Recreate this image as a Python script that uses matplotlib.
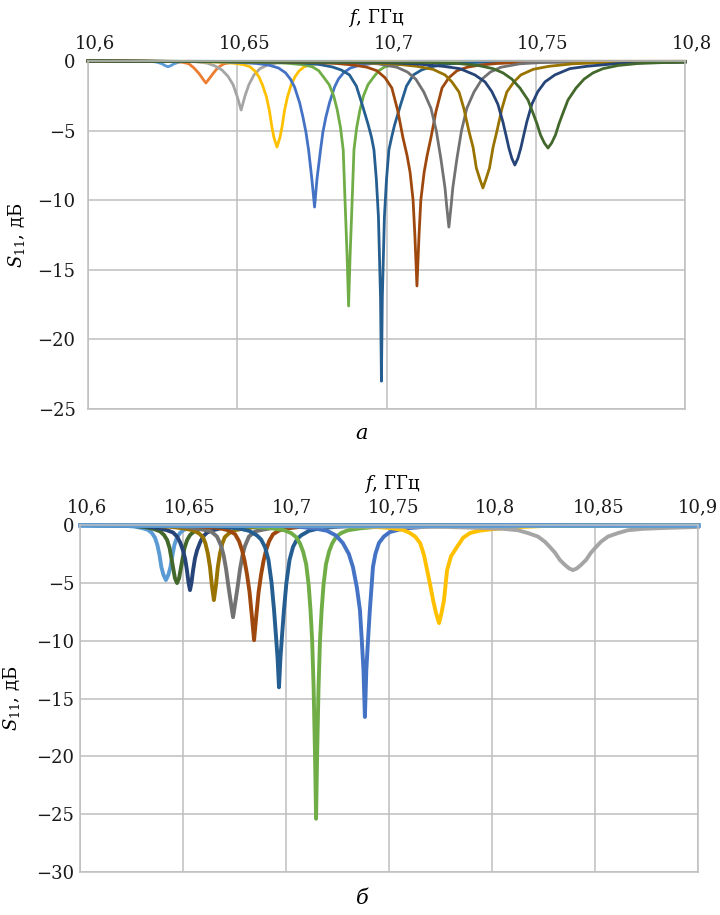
import matplotlib
matplotlib.use('Agg')
import matplotlib.pyplot as plt
import matplotlib.transforms as mtransforms

plt.rcParams['font.family'] = ['DejaVu Serif']
plt.rcParams['mathtext.fontset'] = 'dejavuserif'

# panel a: S11 (dB) vs f (GHz)
a_freq = [
    [10.6, 10.6208, 10.6231, 10.6248, 10.6258, 10.6268, 10.6278, 10.6288, 10.6305, 10.6328, 10.8],
    [10.6, 10.6275, 10.6315, 10.6338, 10.6355, 10.6372, 10.6385, 10.6395, 10.6405, 10.6419, 10.6436,
     10.6456, 10.6482, 10.6526, 10.8],
    [10.6, 10.6358, 10.6399, 10.6425, 10.6449, 10.6469, 10.6486, 10.6499, 10.6513, 10.6526, 10.6539,
     10.6556, 10.6576, 10.6600, 10.6633, 10.6693, 10.8],
    [10.6, 10.6348, 10.6432, 10.6489, 10.6523, 10.6543, 10.6559, 10.6573, 10.6585, 10.6598, 10.6608,
     10.6616, 10.6623, 10.6633, 10.6643, 10.6650, 10.6658, 10.6668, 10.6680, 10.6693, 10.6707, 10.6724,
     10.6744, 10.6777, 10.6834, 10.6918, 10.8],
    [10.6, 10.6424, 10.6508, 10.6565, 10.6605, 10.6638, 10.6662, 10.6678, 10.6692, 10.6709, 10.6720,
     10.6730, 10.6739, 10.6750, 10.6759, 10.6767, 10.6779, 10.6787, 10.6797, 10.6809, 10.6826, 10.6839,
     10.6856, 10.6879, 10.6913, 10.6953, 10.7010, 10.7094, 10.8],
    [10.6, 10.6505, 10.6605, 10.6672, 10.6722, 10.6752, 10.6773, 10.6789, 10.6808, 10.6823, 10.6835,
     10.6846, 10.6855, 10.6861, 10.6868, 10.6873, 10.6878, 10.6885, 10.6891, 10.6900, 10.6911, 10.6923,
     10.6938, 10.6957, 10.6974, 10.6994, 10.7024, 10.7074, 10.7141, 10.7242, 10.8],
    [10.6, 10.6615, 10.6718, 10.6775, 10.6819, 10.6849, 10.6876, 10.6899, 10.6919, 10.6939, 10.6950,
     10.6958, 10.6966, 10.6973, 10.6980, 10.6983, 10.6986, 10.6993, 10.7000, 10.7008, 10.7017, 10.7027,
     10.7047, 10.7067, 10.7090, 10.7117, 10.7147, 10.7191, 10.7248, 10.7352, 10.8],
    [10.6, 10.6667, 10.6767, 10.6834, 10.6891, 10.6935, 10.6968, 10.6995, 10.7018, 10.7038, 10.7055,
     10.7069, 10.7079, 10.7089, 10.7095, 10.7102, 10.7109, 10.7115, 10.7126, 10.7136, 10.7149, 10.7166,
     10.7186, 10.7209, 10.7236, 10.7270, 10.7313, 10.7370, 10.7437, 10.7538, 10.8],
    [10.6, 10.6774, 10.6891, 10.6971, 10.7035, 10.7070, 10.7098, 10.7125, 10.7149, 10.7167, 10.7182,
     10.7196, 10.7202, 10.7209, 10.7216, 10.7222, 10.7236, 10.7251, 10.7269, 10.7293, 10.7320, 10.7348,
     10.7383, 10.7447, 10.7527, 10.7645, 10.8],
    [10.6, 10.6904, 10.7022, 10.7102, 10.7156, 10.7196, 10.7219, 10.7243, 10.7259, 10.7276, 10.7290,
     10.7301, 10.7313, 10.7323, 10.7333, 10.7345, 10.7357, 10.7370, 10.7387, 10.7403, 10.7427, 10.7450,
     10.7491, 10.7544, 10.7625, 10.7742, 10.8],
    [10.6, 10.6978, 10.7095, 10.7189, 10.7246, 10.7296, 10.7330, 10.7353, 10.7373, 10.7390, 10.7400,
     10.7410, 10.7420, 10.7430, 10.7440, 10.7450, 10.7460, 10.7470, 10.7487, 10.7507, 10.7531, 10.7564,
     10.7614, 10.7671, 10.7765, 10.7882, 10.8],
    [10.6, 10.7139, 10.7240, 10.7307, 10.7357, 10.7390, 10.7420, 10.7447, 10.7474, 10.7491, 10.7504,
     10.7516, 10.7529, 10.7541, 10.7553, 10.7566, 10.7578, 10.7591, 10.7608, 10.7635, 10.7662, 10.7692,
     10.7725, 10.7776, 10.7843, 10.7943, 10.8],
]
a_s11 = [
    [0, -0.02, -0.08, -0.2, -0.33, -0.41, -0.33, -0.2, -0.08, -0.02, -0.02],
    [0, -0.03, -0.08, -0.2, -0.5, -0.9, -1.3, -1.58, -1.3, -0.9, -0.45, -0.2, -0.09, -0.03, -0.02],
    [0, -0.05, -0.15, -0.35, -0.65, -1.1, -1.7, -2.5, -3.52, -2.5, -1.7, -1.0, -0.55, -0.3, -0.14,
     -0.05, -0.03],
    [0, -0.04, -0.08, -0.16, -0.27, -0.42, -0.72, -1.15, -1.75, -2.59, -3.6, -4.74, -5.5, -6.18, -5.5,
     -4.74, -3.6, -2.59, -1.75, -1.15, -0.72, -0.42, -0.27, -0.16, -0.08, -0.04, -0.03],
    [0, -0.05, -0.1, -0.18, -0.29, -0.5, -0.85, -1.3, -1.87, -3.0, -4.02, -5.1, -6.39, -8.5, -10.49,
     -8.5, -6.39, -5.1, -4.02, -3.0, -1.87, -1.3, -0.85, -0.5, -0.29, -0.18, -0.1, -0.05, -0.04],
    [0, -0.05, -0.09, -0.17, -0.27, -0.42, -0.7, -1.15, -1.7, -2.5, -3.52, -4.8, -6.39, -9.99, -14,
     -17.6, -14, -9.99, -6.39, -4.8, -3.52, -2.5, -1.7, -1.15, -0.7, -0.42, -0.27, -0.17, -0.09, -0.05,
     -0.04],
    [0, -0.07, -0.14, -0.25, -0.43, -0.65, -1.0, -1.8, -3.16, -4.6, -5.5, -6.39, -8.5, -11.2, -17,
     -23.0, -17, -11.2, -8.5, -6.39, -5.5, -4.6, -3.16, -1.8, -1.0, -0.65, -0.43, -0.25, -0.14, -0.07,
     -0.05],
    [0, -0.06, -0.12, -0.18, -0.29, -0.45, -0.7, -1.2, -1.94, -3.6, -5.5, -6.8, -8.0, -9.99, -12.5,
     -16.16, -12.5, -9.99, -8.0, -6.8, -5.5, -3.6, -1.94, -1.2, -0.7, -0.45, -0.29, -0.18, -0.12, -0.06,
     -0.05],
    [0, -0.05, -0.1, -0.2, -0.45, -0.79, -1.3, -2.23, -3.4, -5.03, -7.0, -9.12, -10.5, -11.93, -10.5,
     -9.12, -7.0, -5.03, -3.4, -2.23, -1.3, -0.79, -0.45, -0.2, -0.1, -0.05, -0.05],
    [0, -0.1, -0.2, -0.38, -0.6, -1.0, -1.5, -2.23, -3.4, -5.03, -6.2, -7.69, -8.5, -9.12, -8.5, -7.69,
     -6.2, -5.03, -3.4, -2.23, -1.5, -1.0, -0.6, -0.38, -0.2, -0.1, -0.07],
    [0, -0.1, -0.2, -0.38, -0.55, -1.0, -1.5, -2.2, -3.1, -4.38, -5.3, -6.25, -7.0, -7.47, -7.0, -6.25,
     -5.3, -4.38, -3.1, -2.2, -1.5, -1.0, -0.55, -0.38, -0.2, -0.1, -0.08],
    [0, -0.1, -0.18, -0.32, -0.55, -0.85, -1.3, -1.94, -2.8, -3.75, -4.5, -5.32, -5.9, -6.25, -5.9,
     -5.32, -4.5, -3.75, -2.8, -1.94, -1.3, -0.85, -0.55, -0.32, -0.18, -0.1, -0.07],
]
a_colors = ['#5B9BD5', '#ED7D31', '#A5A5A5', '#FFC000', '#4472C4', '#70AD47',
            '#255E91', '#9E480E', '#727272', '#997300', '#264478', '#43682B']

# panel b (measured)
b_freq = [
    [10.6, 10.6199, 10.6262, 10.6301, 10.6330, 10.6349, 10.6364, 10.6376, 10.6386, 10.6395, 10.6405,
     10.6417, 10.6429, 10.6439, 10.6449, 10.6458, 10.6470, 10.6485, 10.6504, 10.6534, 10.6572, 10.6635,
     10.9],
    [10.6, 10.6253, 10.6316, 10.6359, 10.6389, 10.6408, 10.6423, 10.6435, 10.6444, 10.6454, 10.6461,
     10.6471, 10.6481, 10.6488, 10.6498, 10.6507, 10.6520, 10.6534, 10.6554, 10.6583, 10.6626, 10.6689,
     10.9],
    [10.6, 10.6243, 10.6316, 10.6379, 10.6422, 10.6452, 10.6471, 10.6486, 10.6500, 10.6510, 10.6519,
     10.6527, 10.6534, 10.6541, 10.6549, 10.6558, 10.6568, 10.6583, 10.6597, 10.6617, 10.6646, 10.6689,
     10.6752, 10.6825, 10.9],
    [10.6, 10.6359, 10.6446, 10.6504, 10.6548, 10.6577, 10.6597, 10.6609, 10.6621, 10.6631, 10.6640,
     10.6650, 10.6660, 10.6669, 10.6679, 10.6691, 10.6703, 10.6723, 10.6752, 10.6796, 10.6854, 10.6941,
     10.9],
    [10.6, 10.6379, 10.6476, 10.6549, 10.6597, 10.6636, 10.6665, 10.6685, 10.6697, 10.6709, 10.6721,
     10.6733, 10.6743, 10.6753, 10.6765, 10.6777, 10.6789, 10.6801, 10.6820, 10.6850, 10.6889, 10.6937,
     10.7010, 10.7107, 10.9],
    [10.6, 10.6530, 10.6627, 10.6685, 10.6724, 10.6753, 10.6772, 10.6787, 10.6799, 10.6811, 10.6823,
     10.6835, 10.6845, 10.6855, 10.6867, 10.6879, 10.6891, 10.6903, 10.6918, 10.6937, 10.6966, 10.7005,
     10.7063, 10.7160, 10.9],
    [10.6, 10.6602, 10.6699, 10.6772, 10.6820, 10.6859, 10.6879, 10.6898, 10.6915, 10.6930, 10.6942,
     10.6951, 10.6959, 10.6966, 10.6973, 10.6981, 10.6990, 10.7002, 10.7017, 10.7034, 10.7053, 10.7073,
     10.7112, 10.7160, 10.7233, 10.7330, 10.9],
    [10.6, 10.6709, 10.6831, 10.6928, 10.6991, 10.7025, 10.7049, 10.7068, 10.7083, 10.7098, 10.7110,
     10.7119, 10.7127, 10.7134, 10.7141, 10.7146, 10.7151, 10.7158, 10.7165, 10.7173, 10.7182, 10.7194,
     10.7209, 10.7224, 10.7243, 10.7267, 10.7301, 10.7364, 10.7462, 10.7583, 10.9],
    [10.6, 10.6922, 10.7043, 10.7140, 10.7199, 10.7242, 10.7276, 10.7305, 10.7325, 10.7344, 10.7359,
     10.7368, 10.7376, 10.7383, 10.7390, 10.7398, 10.7407, 10.7415, 10.7422, 10.7434, 10.7451, 10.7475,
     10.7504, 10.7553, 10.7601, 10.7699, 10.7820, 10.9],
    [10.6, 10.7258, 10.7403, 10.7505, 10.7568, 10.7597, 10.7627, 10.7651, 10.7670, 10.7685, 10.7699,
     10.7714, 10.7728, 10.7743, 10.7755, 10.7767, 10.7775, 10.7782, 10.7801, 10.7830, 10.7860, 10.7894,
     10.7937, 10.8005, 10.8136, 10.8277, 10.9],
    [10.6, 10.7786, 10.7956, 10.8053, 10.8126, 10.8175, 10.8223, 10.8257, 10.8281, 10.8306, 10.8330,
     10.8354, 10.8374, 10.8393, 10.8412, 10.8432, 10.8456, 10.8480, 10.8505, 10.8529, 10.8563, 10.8611,
     10.8660, 10.8733, 10.8830, 10.9],
]
b_s11 = [
    [0, -0.05, -0.13, -0.26, -0.42, -0.69, -1.1, -1.75, -2.6, -3.64, -4.3, -4.76, -4.3, -3.64, -2.6,
     -1.75, -1.1, -0.69, -0.42, -0.26, -0.13, -0.05, 0],
    [0, -0.07, -0.18, -0.35, -0.55, -0.87, -1.3, -2.0, -2.9, -3.9, -4.6, -5.02, -4.6, -3.9, -2.9, -2.0,
     -1.3, -0.87, -0.55, -0.35, -0.18, -0.07, 0],
    [0, -0.05, -0.12, -0.26, -0.45, -0.65, -1.0, -1.5, -2.2, -2.9, -3.9, -5.0, -5.63, -5.0, -3.9, -2.9,
     -2.2, -1.5, -1.0, -0.65, -0.45, -0.26, -0.12, -0.05, 0],
    [0, -0.07, -0.17, -0.3, -0.45, -0.72, -1.05, -1.6, -2.5, -3.64, -5.2, -6.49, -5.2, -3.64, -2.5, -1.6,
     -1.05, -0.72, -0.45, -0.3, -0.17, -0.07, 0],
    [0, -0.05, -0.12, -0.25, -0.4, -0.55, -1.0, -1.8, -2.6, -3.8, -5.37, -6.8, -7.97, -6.8, -5.37, -3.8,
     -2.6, -1.8, -1.0, -0.55, -0.4, -0.25, -0.12, -0.05, 0],
    [0, -0.07, -0.17, -0.3, -0.48, -0.8, -1.4, -2.2, -3.1, -4.3, -5.8, -8.0, -9.96, -8.0, -5.8, -4.3,
     -3.1, -2.2, -1.4, -0.8, -0.48, -0.3, -0.17, -0.07, 0],
    [0, -0.07, -0.17, -0.3, -0.5, -0.9, -1.25, -1.9, -3.03, -5.0, -7.36, -9.5, -11.5, -14.03, -11.5,
     -9.5, -7.36, -5.0, -3.03, -1.9, -1.25, -0.9, -0.5, -0.3, -0.17, -0.07, 0],
    [0, -0.05, -0.12, -0.28, -0.45, -0.7, -1.04, -1.6, -2.3, -3.4, -5.2, -7.36, -10, -14, -20, -25.4,
     -20, -14, -10, -7.36, -5.2, -3.4, -2.3, -1.6, -1.04, -0.7, -0.45, -0.28, -0.12, -0.05, 0],
    [0, -0.05, -0.12, -0.3, -0.5, -0.9, -1.56, -2.5, -3.64, -5.4, -7.36, -10, -12.5, -16.6, -12.5, -10,
     -7.36, -5.4, -3.64, -2.5, -1.56, -1.0, -0.61, -0.38, -0.26, -0.12, -0.05, 0],
    [0, -0.05, -0.12, -0.26, -0.43, -0.65, -1.0, -1.56, -2.6, -3.9, -5.1, -6.49, -7.6, -8.48, -7.6,
     -6.49, -5.1, -3.9, -2.7, -1.9, -1.1, -0.69, -0.5, -0.35, -0.17, -0.07, 0],
    [0, -0.17, -0.26, -0.33, -0.45, -0.7, -1.0, -1.45, -1.9, -2.4, -3.03, -3.45, -3.75, -3.9, -3.75,
     -3.45, -3.03, -2.4, -1.9, -1.45, -1.0, -0.7, -0.45, -0.33, -0.26, -0.17],
]
b_colors = ['#5B9BD5', '#43682B', '#264478', '#997300', '#727272', '#9E480E',
            '#255E91', '#70AD47', '#4472C4', '#FFC000', '#A5A5A5']
b_flat_freq = [10.6, 10.9]
b_flat_s11 = [0, 0]

a_xticks = [10.6, 10.65, 10.7, 10.75, 10.8]
a_xlabels = ['10,6', '10,65', '10,7', '10,75', '10,8']
a_yticks = [0, -5, -10, -15, -20, -25]
b_xticks = [10.6, 10.65, 10.7, 10.75, 10.8, 10.85, 10.9]
b_xlabels = ['10,6', '10,65', '10,7', '10,75', '10,8', '10,85', '10,9']
b_yticks = [0, -5, -10, -15, -20, -25, -30]

grid_c = '#BFBFBF'
fs = 13

fig = plt.figure(figsize=(7.2, 9.15), dpi=100)
ax_a = fig.add_axes([88 / 720, 1 - 409 / 915, 597 / 720, 348 / 915])
ax_b = fig.add_axes([80 / 720, 1 - 872 / 915, 618 / 720, 347 / 915])


def style_axis(ax, xticks, xlabels, yticks, xlim, ypad, ylab_x, shifts):
    ax.set_xlim(*xlim)
    ax.set_ylim(yticks[-1], 0)
    ax.set_xticks(xticks)
    ax.set_xticklabels(xlabels)
    ax.set_yticks(yticks)
    ax.set_yticklabels(['0'] + ['\u2212%d' % -v for v in yticks[1:]])
    ax.xaxis.tick_top()
    ax.tick_params(axis='both', length=0, labelsize=fs, colors='#1a1a1a')
    ax.tick_params(axis='x', pad=6)
    ax.tick_params(axis='y', pad=ypad)
    ax.grid(True, color=grid_c, linewidth=1.1)
    ax.set_axisbelow(True)
    for s in ax.spines.values():
        s.set_color(grid_c)
        s.set_linewidth(1.1)
    # excel nudges the top labels a bit to the right
    for lab, dx in zip(ax.get_xticklabels(), shifts):
        off = mtransforms.ScaledTranslation(dx / 100, 0, fig.dpi_scale_trans)
        lab.set_transform(lab.get_transform() + off)
    ax.set_ylabel('$S_{11}$, дБ', fontsize=fs)
    ax.yaxis.set_label_coords(ylab_x, 0.5)


style_axis(ax_a, a_xticks, a_xlabels, a_yticks, (10.6, 10.8), 9, -0.102, [7, 7, 7, 7, 7])
style_axis(ax_b, b_xticks, b_xlabels, b_yticks, (10.6, 10.9), 4, -0.094, [7, 7, 6, 4, 3, 4, 0])

for f, s, c in zip(a_freq, a_s11, a_colors):
    ax_a.plot(f, s, color=c, linewidth=2.0, clip_on=False, solid_joinstyle='round')

for f, s, c in zip(b_freq, b_s11, b_colors):
    ax_b.plot(f, s, color=c, linewidth=2.8, clip_on=False, solid_joinstyle='round')
ax_b.plot(b_flat_freq, b_flat_s11, color='#5B9BD5', linewidth=3.4, clip_on=False)

ax_a.text(0.483, 1.124, '$f$, ГГц', transform=ax_a.transAxes, fontsize=fs,
          ha='center', va='center')
ax_b.text(0.505, 1.118, '$f$, ГГц', transform=ax_b.transAxes, fontsize=fs,
          ha='center', va='center')

fig.text(362 / 720, 1 - 434 / 915, 'а', fontsize=15, style='italic', ha='center', va='center')
fig.text(362 / 720, 1 - 898 / 915, 'б', fontsize=15, style='italic', ha='center', va='center')

fig.savefig('out.png', dpi=100)
